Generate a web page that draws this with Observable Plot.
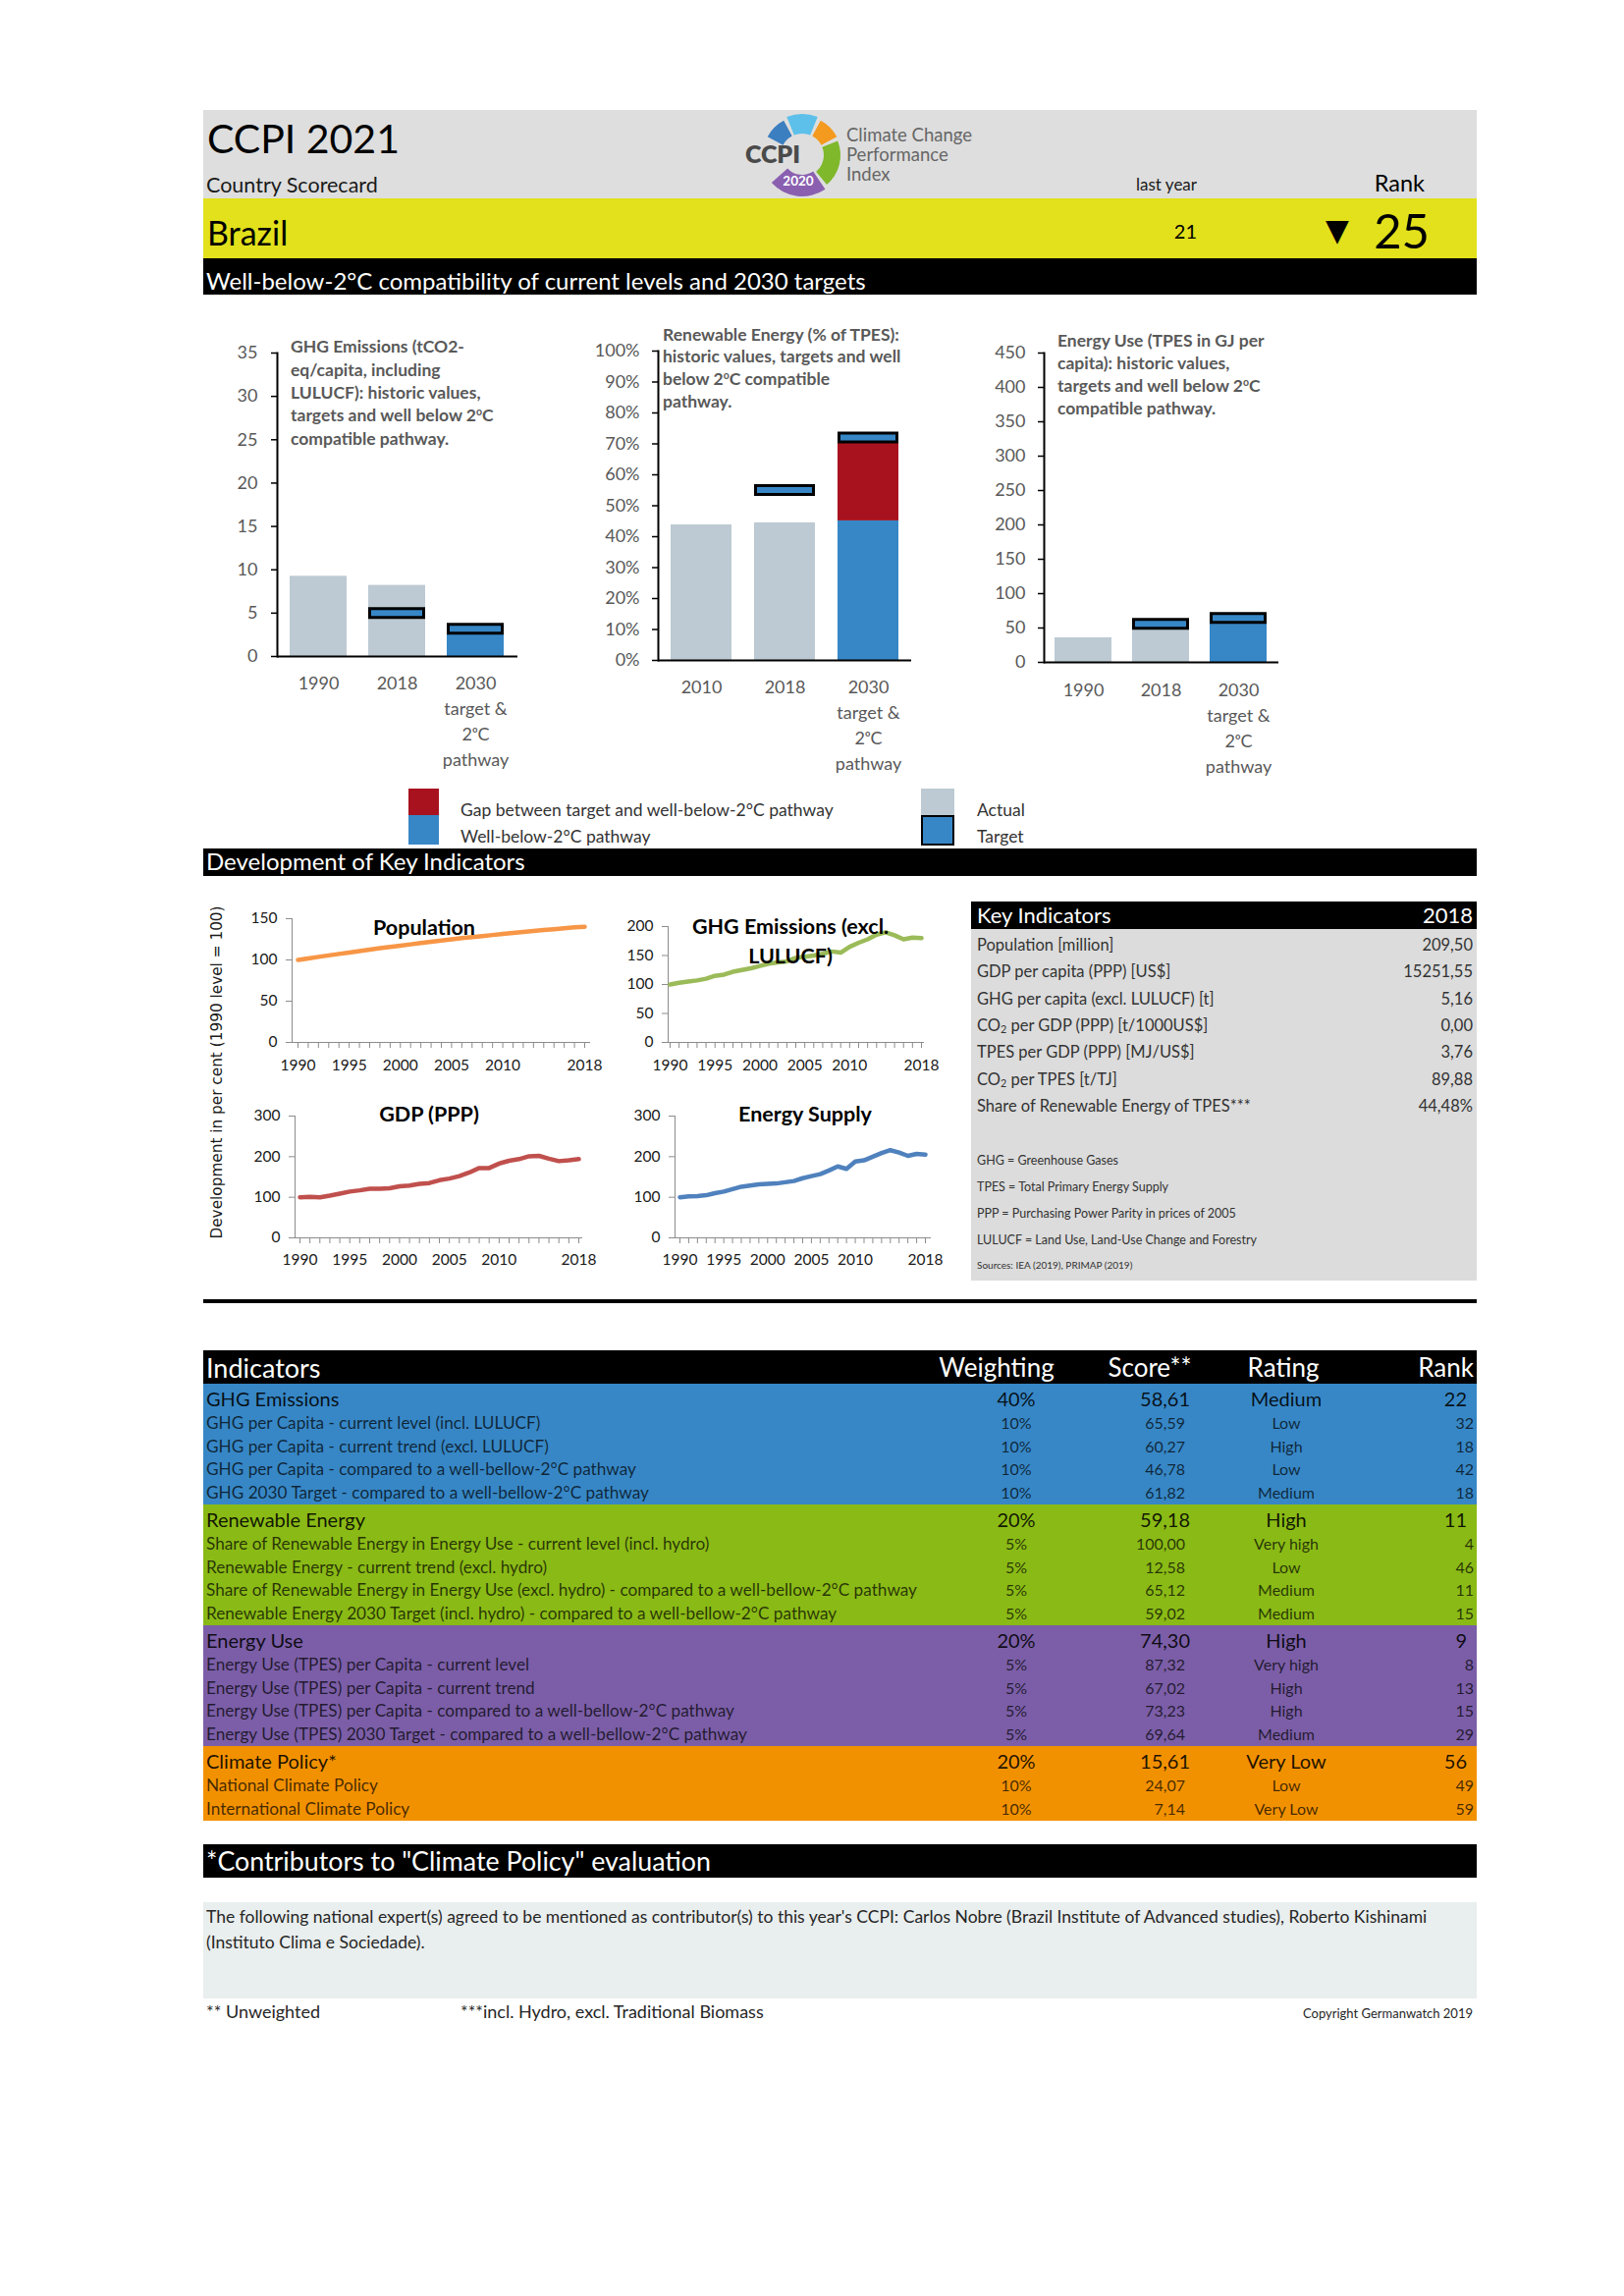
<!DOCTYPE html>
<html><head><meta charset="utf-8">
<script src="https://cdn.jsdelivr.net/npm/d3@7"></script>
<script src="https://cdn.jsdelivr.net/npm/@observablehq/plot@0.6"></script>
<style>
body{margin:0;background:#fff;font-family:Lato,"Open Sans",sans-serif;}
#page{position:relative;width:1654px;height:2338px;overflow:hidden;background:#fff;}
sup{font-size:0.6em;vertical-align:0.55em;line-height:0;}
sub{font-size:0.65em;vertical-align:-0.25em;line-height:0;}
</style></head><body><div id="page"></div>
<script>
// ---------------- DATA ----------------
const ghgCats = ["1990","2018","2030"];
const ghgLabels = ["1990","2018","2030\ntarget &\n2ᵒC\npathway"];
const ghgActual = [9.25, 8.2, null];
const ghgPathway = [null, null, 3.5];
const ghgGapTop = [null, null, null];
const ghgTarget = [null, 5.0, 3.2];

const reCats = ["2010","2018","2030"];
const reLabels = ["2010","2018","2030\ntarget &\n2ᵒC\npathway"];
const reActual = [43.8, 44.48, null];
const rePathway = [null, null, 45.1];
const reGapTop = [null, null, 72];
const reTarget = [null, 55.1, 72.1];

const euCats = ["1990","2018","2030"];
const euLabels = ["1990","2018","2030\ntarget &\n2ᵒC\npathway"];
const euActual = [35.7, 50, null];
const euPathway = [null, null, 60];
const euGapTop = [null, null, null];
const euTarget = [null, 56.2, 64.8];

const years = [1990,1991,1992,1993,1994,1995,1996,1997,1998,1999,2000,2001,2002,2003,2004,2005,2006,2007,2008,2009,2010,2011,2012,2013,2014,2015,2016,2017,2018];
const yearLabels = [1990,1995,2000,2005,2010,2018];
const population = [100,101.9,103.7,105.5,107.3,109.0,110.8,112.5,114.2,115.8,117.3,118.9,120.5,122.0,123.5,125.0,126.4,127.7,129.0,130.2,131.5,132.7,133.8,135.0,136.2,137.3,138.5,139.6,140.2];
const ghgExcl = [100,103,105,107,110,115,117,122,125,128,132,136,138,140,146,148,150,153,157,155,165,172,178,186,190,185,178,181,180];
const gdpPPP = [100,101,100,104,109,114,117,121,121,122,127,129,133,135,142,146,152,161,172,172,183,190,194,201,202,195,189,191,194];
const energySupply = [100,102,103,105,110,114,120,126,129,132,133,134,137,140,147,152,157,166,176,170,188,191,200,209,216,210,202,207,205];

const keyLabels = ["Population [million]","GDP per capita (PPP) [US$]","GHG per capita (excl. LULUCF) [t]","CO<sub>2</sub> per GDP (PPP) [t/1000US$]","TPES per GDP (PPP) [MJ/US$]","CO<sub>2</sub> per TPES [t/TJ]","Share of Renewable Energy of TPES***"];
const keyValues = ["209,50","15251,55","5,16","0,00","3,76","89,88","44,48%"];
const keyNotes = ["GHG = Greenhouse Gases","TPES = Total Primary Energy Supply","PPP = Purchasing Power Parity in prices of 2005","LULUCF = Land Use, Land-Use Change and Forestry"];

const groups = ["GHG Emissions","Renewable Energy","Energy Use","Climate Policy*"];
const groupWeights = ["40%","20%","20%","20%"];
const groupScores = ["58,61","59,18","74,30","15,61"];
const groupRatings = ["Medium","High","High","Very Low"];
const groupRanks = ["22","11","9","56"];
const subNames = [
 ["GHG per Capita - current level (incl. LULUCF)","GHG per Capita - current trend (excl. LULUCF)","GHG per Capita - compared to a well-bellow-2°C pathway","GHG 2030 Target - compared to a well-bellow-2°C pathway"],
 ["Share of Renewable Energy in Energy Use - current level (incl. hydro)","Renewable Energy - current trend (excl. hydro)","Share of Renewable Energy in Energy Use (excl. hydro) - compared to a well-bellow-2°C pathway","Renewable Energy 2030 Target (incl. hydro) - compared to a well-bellow-2°C pathway"],
 ["Energy Use (TPES) per Capita - current level","Energy Use (TPES) per Capita - current trend","Energy Use (TPES) per Capita - compared to a well-bellow-2°C pathway","Energy Use (TPES) 2030 Target - compared to a well-bellow-2°C pathway"],
 ["National Climate Policy","International Climate Policy"]
];
const subWeights = [["10%","10%","10%","10%"],["5%","5%","5%","5%"],["5%","5%","5%","5%"],["10%","10%"]];
const subScores = [["65,59","60,27","46,78","61,82"],["100,00","12,58","65,12","59,02"],["87,32","67,02","73,23","69,64"],["24,07","7,14"]];
const subRatings = [["Low","High","Low","Medium"],["Very high","Low","Medium","Medium"],["Very high","High","High","Medium"],["Low","Very Low"]];
const subRanks = [["32","18","42","18"],["4","46","11","15"],["8","13","15","29"],["49","59"]];

// ---------------- HELPERS ----------------
const page = document.getElementById('page');
const FONT = "Lato, 'Open Sans', sans-serif";
const L0 = 207, WD = 1297, R0 = L0 + WD;
function rect(x,y,w,h,bg,extra=''){const d=document.createElement('div');d.style.cssText=`position:absolute;left:${x}px;top:${y}px;width:${w}px;height:${h}px;background:${bg};${extra}`;page.appendChild(d);return d;}
function txt(x,y,html,o={}){const {size=16,weight=400,color='#000',anchor='left',family=FONT,extra=''}=o;const d=document.createElement('div');const tx=anchor==='left'?'0':anchor==='center'?'-50%':'-100%';d.style.cssText=`position:absolute;left:${x}px;top:${y}px;transform:translate(${tx},-50%);font-family:${family};font-size:${size}px;font-weight:${weight};color:${color};line-height:1;white-space:nowrap;${extra}`;d.innerHTML=html;page.appendChild(d);return d;}
function block(x,y0,lines,lh,o={}){const {size=16,weight=400,color='#000',anchor='left'}=o;const d=document.createElement('div');d.style.cssText=`position:absolute;left:${x}px;top:${y0-lh/2}px;font-family:${FONT};font-size:${size}px;font-weight:${weight};color:${color};line-height:${lh}px;white-space:nowrap;text-align:${anchor};${anchor==='center'?'transform:translateX(-50%);':''}`;d.innerHTML=lines.join('<br>');page.appendChild(d);return d;}
function place(node,x,y){node.style.position='absolute';node.style.left=x+'px';node.style.top=y+'px';page.appendChild(node);}

// ---------------- HEADER ----------------
rect(L0,112,WD,90,'#dedede');
rect(L0,202,WD,61,'#e2e11b');
rect(L0,263,WD,37,'#000');
txt(211,140,'CCPI 2021',{size:41});
txt(210,189,'Country Scorecard',{size:21.5,color:'#1a1a1a'});
txt(1188,187,'last year',{size:17,anchor:'center',color:'#1a1a1a'});
txt(1451,187,'Rank',{size:23.5,anchor:'right'});
txt(211,237,'Brazil',{size:34});
txt(1219,235,'21',{size:20,anchor:'right'});
txt(1350,234,'▼',{size:31,family:"'DejaVu Sans'"});
txt(1456,234,'25',{size:49,anchor:'right'});
txt(210,286,'Well-below-2°C compatibility of current levels and 2030 targets',{size:24,color:'#fff'});

// logo
(function(){
  const s=d3.create('svg').attr('width',280).attr('height',100).style('overflow','visible');
  const g=s.append('g').attr('transform','translate(77,53)');
  const segs=[[-62,-28,'#3c7fc0',22,40],[-22,22,'#5cc0ea',22,42],[28,62,'#f39a1f',22,40],[68,140,'#7fb82a',22,39],[146,228,'#8a5fb0',20,42]];
  const arc=d3.arc();
  segs.forEach(([a0,a1,c,ri,ro])=>g.append('path').attr('d',arc({innerRadius:ri,outerRadius:ro,startAngle:a0*Math.PI/180,endAngle:a1*Math.PI/180})).attr('fill',c));
  g.append('text').attr('x',-4).attr('y',31).attr('text-anchor','middle').attr('font-family','Lato').attr('font-weight',700).attr('font-size',13.5).attr('fill','#fff').text('2020');
  s.append('text').attr('x',19).attr('y',61).attr('font-family','Lato').attr('font-weight',800).attr('font-size',25).attr('fill','#4a4a4a').text('CCPI');
  place(s.node(),740,105);
})();
block(862,137,['Climate Change','Performance','Index'],20,{size:18.5,color:'#666'});

// ---------------- BAR CHARTS ----------------
function barChart(c){
  const data=c.cats.map((k,i)=>({cat:k,label:c.labels[i],actual:c.actual[i],pathway:c.pathway[i],gapTop:c.gapTop[i],target:c.target[i]}));
  const tg=data.filter(d=>d.target!=null);
  return Plot.plot({
    width:c.width,height:c.height,marginLeft:c.mL,marginRight:c.mR,marginTop:c.mT,marginBottom:c.mB,
    style:{fontFamily:FONT,fontSize:"18px",color:"#595959",background:"transparent",overflow:"visible"},
    x:{domain:c.cats,paddingInner:c.pi,paddingOuter:c.po,axis:null},
    y:{domain:[0,c.yMax],axis:null},
    marks:[
      Plot.barY(data.filter(d=>d.actual!=null),{x:"cat",y:"actual",fill:"#bdcad3"}),
      Plot.barY(data.filter(d=>d.pathway!=null),{x:"cat",y:"pathway",fill:"#3787c6"}),
      Plot.barY(data.filter(d=>d.gapTop!=null),{x:"cat",y1:"pathway",y2:"gapTop",fill:"#a8121f"}),
      Plot.tickY(tg,{x:"cat",y:"target",stroke:"#000",strokeWidth:12}),
      Plot.tickY(tg,{x:"cat",y:"target",stroke:"#3787c6",strokeWidth:6,inset:3}),
      Plot.axisY({ticks:c.yTicks,tickFormat:c.fmt,tickSize:6,tickPadding:c.tp,stroke:"#000",strokeWidth:1.5,fill:"#595959",label:null}),
      Plot.frame({anchor:"left",stroke:"#000",strokeWidth:2}),
      Plot.ruleY([0],{stroke:"#000",strokeWidth:2}),
      Plot.text(data,{x:"cat",text:"label",frameAnchor:"bottom",lineAnchor:"top",dy:c.ldy,lineHeight:1.44,fill:"#595959",fontSize:18})
    ]
  });
}
place(barChart({cats:ghgCats,labels:ghgLabels,actual:ghgActual,pathway:ghgPathway,gapTop:ghgGapTop,target:ghgTarget,
  width:322,height:470,mL:74,mR:3,mT:29,mB:132,pi:0.27,po:0.15,yMax:35,yTicks:[0,5,10,15,20,25,30,35],fmt:d=>String(d),tp:14,ldy:15}),208,330);
place(barChart({cats:reCats,labels:reLabels,actual:reActual,pathway:rePathway,gapTop:reGapTop,target:reTarget,
  width:335,height:470,mL:70,mR:7,mT:27,mB:128,pi:0.267,po:0.14,yMax:100,yTicks:[0,10,20,30,40,50,60,70,80,90,100],fmt:d=>d+"%",tp:13,ldy:15}),600,330);
place(barChart({cats:euCats,labels:euLabels,actual:euActual,pathway:euPathway,gapTop:euGapTop,target:euTarget,
  width:320,height:470,mL:73,mR:8,mT:29,mB:126,pi:0.26,po:0.14,yMax:450,yTicks:[0,50,100,150,200,250,300,350,400,450],fmt:d=>String(d),tp:13,ldy:16}),990,330);

const TS={size:17.5,weight:700,color:'#595959'};
block(296,353,['GHG Emissions (tCO2-','eq/capita, including','LULUCF): historic values,','targets and well below 2<sup>o</sup>C','compatible pathway.'],23.3,TS);
block(675,341,['Renewable Energy (% of TPES):','historic values, targets and well','below 2<sup>o</sup>C compatible','pathway.'],22.7,TS);
block(1077,346,['Energy Use (TPES in GJ per','capita): historic values,','targets and well below 2<sup>o</sup>C','compatible pathway.'],23,TS);

// legend
rect(416,803,31,27,'#a8121f');
rect(416,830,31,30,'#3787c6');
rect(938,803,34,27,'#bdcad3');
rect(938,830,34,31,'#3787c6','box-sizing:border-box;border:2px solid #000;');
txt(469,825,'Gap between target and well-below-2°C pathway',{size:17.5,color:'#333'});
txt(469,852,'Well-below-2°C pathway',{size:17.5,color:'#333'});
txt(995,825,'Actual',{size:17.5,color:'#333'});
txt(995,852,'Target',{size:17.5,color:'#333'});

rect(L0,864,WD,28,'#000');
txt(210,877,'Development of Key Indicators',{size:24,color:'#fff'});

// ---------------- LINE CHARTS ----------------
function lineChart(c){
  const data=years.map((y,i)=>({year:y,v:c.values[i]}));
  return Plot.plot({
    width:c.width,height:c.height,marginLeft:c.mL,marginRight:c.mR,marginTop:c.mT,marginBottom:c.mB,
    style:{fontFamily:FONT,fontSize:"15.5px",color:"#222",background:"transparent",overflow:"visible"},
    x:{domain:[1990,2018],insetLeft:c.iL,insetRight:c.iR,axis:null},
    y:{domain:[0,c.yMax],axis:null},
    marks:[
      Plot.frame({anchor:"left",stroke:"#8c8c8c"}),
      Plot.frame({anchor:"bottom",stroke:"#8c8c8c"}),
      Plot.axisY({ticks:c.yTicks,tickSize:6,tickPadding:9,stroke:"#8c8c8c",fill:"#1a1a1a",tickFormat:d=>String(d),label:null}),
      Plot.axisX({ticks:years,tickSize:6,tickFormat:()=>"",stroke:"#8c8c8c",label:null}),
      Plot.axisX({ticks:yearLabels,tickSize:0,tickPadding:c.tp,tickFormat:d=>String(d),fill:"#1a1a1a",label:null}),
      Plot.line(data,{x:"year",y:"v",stroke:c.color,strokeWidth:4.5,strokeLinejoin:"round"})
    ]
  });
}
place(lineChart({values:population,color:"#f79646",width:380,height:200,mL:67,mR:10,mT:15,mB:59,iL:6,iR:5,yMax:150,yTicks:[0,50,100,150],tp:17}),230,920);
place(lineChart({values:ghgExcl,color:"#9bbb59",width:340,height:200,mL:65,mR:15,mT:23,mB:59,iL:2,iR:2,yMax:200,yTicks:[0,50,100,150,200],tp:17}),615,920);
place(lineChart({values:gdpPPP,color:"#c0504d",width:380,height:200,mL:70,mR:18,mT:16,mB:60,iL:5,iR:3,yMax:300,yTicks:[0,100,200,300],tp:16}),230,1120);
place(lineChart({values:energySupply,color:"#4f81bd",width:340,height:200,mL:72,mR:8,mT:16,mB:60,iL:5,iR:5,yMax:300,yTicks:[0,100,200,300],tp:16}),615,1120);

const LT={size:21.5,weight:700,anchor:'center'};
txt(432,945,'Population',LT);
block(805,943,['GHG Emissions (excl.','LULUCF)'],30,LT);
txt(437,1135,'GDP (PPP)',LT);
txt(820,1135,'Energy Supply',LT);
txt(222,1092,'Development in per cent (1990 level = 100)',{size:15.3,anchor:'center',family:"'DejaVu Sans'",color:'#1a1a1a',extra:'transform:translate(-50%,-50%) rotate(-90deg);'});

// ---------------- KEY INDICATORS ----------------
rect(989,918,R0-989,28,'#000');
rect(989,946,R0-989,358,'#dcdcdc');
txt(995,932,'Key Indicators',{size:22,color:'#fff'});
txt(1500,932,'2018',{size:22,color:'#fff',anchor:'right'});
keyLabels.forEach((l,i)=>{
  txt(995,962+i*27.3,l,{size:16.5,color:'#333'});
  txt(1500,962+i*27.3,keyValues[i],{size:16.5,color:'#333',anchor:'right'});
});
keyNotes.forEach((n,i)=>txt(995,1182+i*27,n,{size:12.5,color:'#333'}));
txt(995,1288,'Sources: IEA (2019), PRIMAP (2019)',{size:10,color:'#333'});

rect(L0,1323,WD,4,'#000');

// ---------------- INDICATORS TABLE ----------------
rect(L0,1375,WD,34,'#000');
const hy=1392;
txt(210,hy,'Indicators',{size:27,color:'#fff'});
txt(1015,hy,'Weighting',{size:26,color:'#fff',anchor:'center'});
txt(1171,hy,'Score**',{size:26,color:'#fff',anchor:'center'});
txt(1307,hy,'Rating',{size:26,color:'#fff',anchor:'center'});
txt(1501,hy,'Rank',{size:26,color:'#fff',anchor:'right'});
const groupColors=['#3787c6','#8aba16','#7b5ea7','#f29100'];
let gy=1409;
groups.forEach((g,gi)=>{
  const n=subNames[gi].length, catH=28, subH=23.75;
  rect(L0,gy,WD,catH+n*subH,groupColors[gi]);
  const cy=gy+catH/2+1, cc='rgba(0,0,0,0.88)';
  txt(210,cy,g,{size:20,color:cc});
  txt(1035,cy,groupWeights[gi],{size:20,color:cc,anchor:'center'});
  txt(1212,cy,groupScores[gi],{size:20,color:cc,anchor:'right'});
  txt(1310,cy,groupRatings[gi],{size:20,color:cc,anchor:'center'});
  txt(1494,cy,groupRanks[gi],{size:20,color:cc,anchor:'right'});
  subNames[gi].forEach((s,si)=>{
    const sy=gy+catH+si*subH+subH/2, sc='rgba(0,0,0,0.72)';
    txt(210,sy,s,{size:17.2,color:sc});
    txt(1035,sy,subWeights[gi][si],{size:16,color:sc,anchor:'center'});
    txt(1207,sy,subScores[gi][si],{size:16,color:sc,anchor:'right'});
    txt(1310,sy,subRatings[gi][si],{size:16,color:sc,anchor:'center'});
    txt(1501,sy,subRanks[gi][si],{size:16,color:sc,anchor:'right'});
  });
  gy+=catH+n*subH;
});

// ---------------- CONTRIBUTORS ----------------
rect(L0,1878,WD,34,'#000');
txt(210,1895,'*Contributors to "Climate Policy" evaluation',{size:26.8,color:'#fff'});
rect(L0,1937,WD,98,'#e9eeee');
block(210,1952,["The following national expert(s) agreed to be mentioned as contributor(s) to this year's CCPI: Carlos Nobre (Brazil Institute of Advanced studies), Roberto Kishinami","(Instituto Clima e Sociedade)."],26,{size:17.5,color:'#262626'});
txt(210,2048,'** Unweighted',{size:18,color:'#262626'});
txt(469,2048,'***incl. Hydro, excl. Traditional Biomass',{size:18,color:'#262626'});
txt(1500,2050,'Copyright Germanwatch 2019',{size:13,color:'#262626',anchor:'right'});
</script></body></html>
